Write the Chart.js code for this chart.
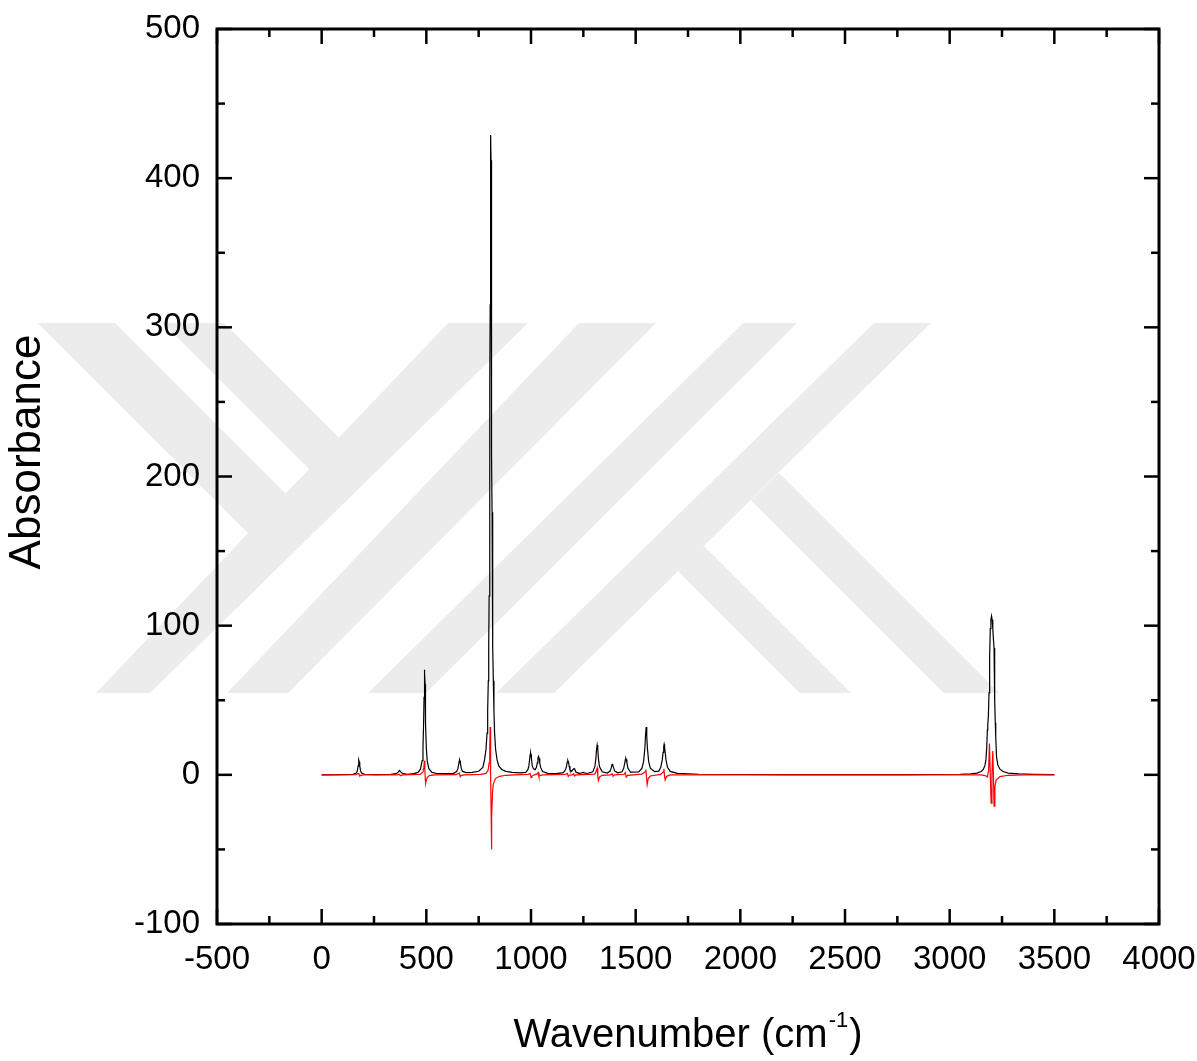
<!DOCTYPE html>
<html lang="en">
<head>
  <meta charset="UTF-8">
  <title>IR Spectrum</title>
  <script src="https://cdn.jsdelivr.net/npm/chart.js"></script>
  <style>
    body {
      margin: 0;
      background-color: #ffffff;
    }
    canvas {
      display: block;
    }
  </style>
</head>
<body>
  <canvas id="spectrumChart" width="1197" height="1061"></canvas>

  <script>
    // black spectrum
    const blackWn = [
      0, 100, 150, 165, 170, 174, 176, 178, 180, 182, 186, 191, 205, 250,
      330, 355, 366, 372, 378, 389, 410,
      440, 460, 472, 480, 484, 487, 489, 490, 491, 492, 493, 494, 495, 497, 500, 504, 512, 527, 550, 600,
      630, 645, 651, 655, 657, 659, 661, 663, 667, 673, 690, 720, 750,
      770, 778, 785, 790, 793, 796, 798, 800, 802, 803, 804, 805, 806, 807, 808,
      809, 810, 811, 812, 813, 814, 816, 818, 820, 823, 826, 831, 838, 846, 860, 880, 910, 950,
      975, 985, 990, 994, 996, 998, 1000, 1002, 1006, 1012, 1020, 1026, 1030, 1033, 1036, 1039, 1042, 1046, 1055, 1080, 1120,
      1155, 1165, 1170, 1173, 1176, 1179, 1182, 1186, 1194, 1200, 1203, 1206, 1209, 1215, 1230, 1244, 1249, 1254, 1270,
      1295, 1305, 1310, 1313, 1316, 1319, 1322, 1327, 1340, 1365, 1378, 1384, 1387, 1389, 1391, 1394, 1400, 1415,
      1435, 1443, 1448, 1451, 1453, 1455, 1458, 1463, 1475, 1515, 1530, 1538, 1544, 1547, 1550, 1553, 1556, 1562, 1570, 1590,
      1610, 1620, 1627, 1631, 1634, 1636, 1638, 1641, 1645, 1652, 1665, 1700, 1800, 2200, 2800,
      3050, 3100, 3130, 3150, 3160, 3168, 3173, 3177, 3180, 3182, 3185, 3188, 3191, 3194, 3197, 3200,
      3203, 3206, 3209, 3212, 3214, 3216, 3218, 3220, 3224, 3230, 3240, 3255, 3280, 3330, 3400, 3500
    ];
    const blackAbs = [
      0, 0.1, 0.3, 1.2, 2.5, 6, 8.6, 10, 8.6, 6, 2.5, 1.2, 0.4, 0.2,
      0.3, 0.8, 1.8, 2.9, 1.8, 0.8, 0.4,
      0.8, 1.6, 3.8, 9.5, 18, 35, 52, 60.8, 67.8, 70.5, 67.8, 60.8, 52, 35, 18, 9.5, 4.1, 1.6, 0.9, 0.8,
      1.0, 2.2, 4.3, 7.5, 9.2, 10, 9.2, 7.5, 4.3, 2.3, 1.5, 1.6, 2.4,
      5, 10, 17, 28, 43, 63, 86, 120, 176, 214, 262, 315, 370, 412, 429,
      412, 370, 315, 262, 214, 176, 120, 86, 63, 43, 28, 17, 10, 6, 3.6, 2.3, 1.6, 1.3,
      1.6, 3.5, 6, 11, 13.5, 14.8, 13.5, 11, 6, 4, 3.5, 5, 8, 11, 12.3, 11, 8, 5, 2.2, 1.0, 0.8,
      1.5, 3.5, 6, 8.5, 9.6, 8.5, 6, 3.5, 2.4, 3.5, 4, 4.2, 3.5, 1.8, 1.0, 1.3, 1.6, 1.3, 0.9,
      2, 5.5, 11, 17, 20, 17, 11, 5.5, 2, 1.2, 2.5, 5, 6.8, 7.4, 6.8, 5, 2.5, 1.3,
      2, 4.5, 8, 10.3, 11, 10.3, 8, 4.5, 1.8, 2.0, 4.5, 9, 18, 26, 32, 26, 18, 9, 4.5, 2.2,
      2.5, 5, 10, 15, 19, 20.5, 19, 15, 10, 5, 2.3, 1.0, 0.4, 0.15, 0.2,
      0.4, 0.7, 1.2, 2.2, 3.5, 6, 10, 18, 30, 33, 40, 55, 80, 98, 104, 106.5,
      104, 98, 91, 85, 68, 50, 35, 26, 12, 6.5, 3.8, 2.2, 1.2, 0.6, 0.3, 0.1
    ];

    // red spectrum
    const redWn = [
      0, 165, 174, 178, 182, 186, 200, 360, 370, 376, 385,
      470, 484, 488, 491, 493, 495, 497, 500, 505, 515, 540,
      640, 655, 658, 662, 666, 680,
      760, 785, 795, 800, 803, 805, 806, 808, 809, 811, 813, 816, 820, 830, 850, 880, 920,
      985, 996, 1000, 1004, 1015, 1030, 1034, 1038, 1042, 1055,
      1165, 1174, 1178, 1183, 1195, 1204, 1208, 1215,
      1305, 1313, 1316, 1319, 1322, 1327, 1340, 1380, 1388, 1392, 1398,
      1445, 1451, 1455, 1462, 1530, 1545, 1549, 1552, 1555, 1560, 1570,
      1620, 1632, 1635, 1638, 1641, 1648, 1665,
      3150, 3170, 3180, 3186, 3190, 3194, 3198, 3202, 3206, 3209, 3212, 3216, 3222, 3240, 3280, 3350, 3500
    ];
    const redAbs = [
      0, 0.2, 1, 0.5, -0.8, -0.4, 0, 0, 0.5, -0.6, 0,
      0.3, 2, 5, 9.5, 3, -3, -5.5, -3.5, -1.5, -0.5, 0,
      0.1, 1, 1.2, -1.2, -0.5, 0,
      0.3, 1.0, 3, 8, 18, 32, 22, 0, -20, -50, -28, -12, -6, -2.5, -1, -0.3, 0,
      0.3, 0.8, -1.8, -1, 0, 0.6, 1.5, -1.2, -0.5, 0,
      0.3, 1, -1, -0.3, 0, 0.6, -0.8, 0,
      0.5, 3, 4.5, -1, -3.8, -1.5, -0.3, 0, 0.8, -1, 0,
      0.4, 1.5, -1.5, -0.3, 0.5, 2, 3.5, -2, -6.5, -2.5, -0.8,
      0.3, 2, 4, -1, -3.5, -1, 0,
      0, -0.5, -1.5, 3, 21, 0, -19, 0, 16, 0, -21, -8, -3.5, -1.2, -0.3, 0, 0
    ];

    const xTicks = [-500, 0, 500, 1000, 1500, 2000, 2500, 3000, 3500, 4000];
    const yTicks = [-100, 0, 100, 200, 300, 400, 500];

    const FONT = '"Liberation Sans", Arial, sans-serif';

    // faint logo bands behind the plot (canvas pixels)
    const bands = [
      [[96, 693], [150, 693], [528, 323], [448, 323]],
      [[227, 693], [288, 693], [656, 323], [579, 323]],
      [[368, 693], [426, 693], [797, 323], [743, 323]],
      [[496, 693], [554, 693], [931, 323], [874, 323]],
      [[38, 323], [115, 323], [287, 495], [249, 534]],
      [[163, 323], [224, 323], [340, 439], [310, 470]],
      [[678, 571], [704, 546], [851, 693], [800, 693]],
      [[751, 500], [779, 473], [999, 693], [944, 693]]
    ];

    function minorsOf(ticks) {
      const out = [];
      for (let i = 0; i < ticks.length - 1; i++) out.push((ticks[i] + ticks[i + 1]) / 2);
      return out;
    }

    const framePlugin = {
      id: 'frame',
      beforeDraw(chart) {
        const ctx = chart.ctx;
        ctx.save();
        ctx.fillStyle = '#ececec';
        bands.forEach(poly => {
          ctx.beginPath();
          poly.forEach(([px, py], i) => i ? ctx.lineTo(px, py) : ctx.moveTo(px, py));
          ctx.closePath();
          ctx.fill();
        });
        ctx.restore();
      },
      afterDraw(chart) {
        const {ctx, chartArea: a, scales: {x, y}} = chart;
        ctx.save();
        ctx.strokeStyle = '#000000';
        ctx.lineWidth = 2.5;

        const tick = (x1, y1, x2, y2) => {
          ctx.beginPath();
          ctx.moveTo(x1, y1);
          ctx.lineTo(x2, y2);
          ctx.stroke();
        };

        // inward ticks on all four sides
        [[xTicks, 15], [minorsOf(xTicks), 8]].forEach(([vals, len]) => {
          vals.forEach(v => {
            const px = x.getPixelForValue(v);
            tick(px, a.bottom, px, a.bottom - len);
            tick(px, a.top, px, a.top + len);
          });
        });
        [[yTicks, 15], [minorsOf(yTicks), 8]].forEach(([vals, len]) => {
          vals.forEach(v => {
            const py = y.getPixelForValue(v);
            tick(a.left, py, a.left + len, py);
            tick(a.right, py, a.right - len, py);
          });
        });

        ctx.lineWidth = 3;
        ctx.strokeRect(a.left, a.top, a.right - a.left, a.bottom - a.top);

        // axis titles
        ctx.fillStyle = '#000000';
        ctx.save();
        ctx.translate(28, 452);
        ctx.rotate(-Math.PI / 2);
        ctx.font = '44px ' + FONT;
        ctx.textAlign = 'center';
        ctx.textBaseline = 'middle';
        ctx.fillText('Absorbance', 0, 0);
        ctx.restore();

        const main = 'Wavenumber (cm';
        const sup = '-1';
        const tail = ')';
        ctx.textBaseline = 'alphabetic';
        ctx.textAlign = 'left';
        ctx.font = '40px ' + FONT;
        const wMain = ctx.measureText(main).width;
        const wTail = ctx.measureText(tail).width;
        ctx.font = '22px ' + FONT;
        const wSup = ctx.measureText(sup).width;
        let tx = (a.left + a.right) / 2 - (wMain + wSup + wTail + 2) / 2;
        ctx.font = '40px ' + FONT;
        ctx.fillText(main, tx, 1047);
        tx += wMain + 1;
        ctx.font = '22px ' + FONT;
        ctx.fillText(sup, tx, 1027);
        tx += wSup + 1;
        ctx.font = '40px ' + FONT;
        ctx.fillText(tail, tx, 1047);
        ctx.restore();
      }
    };

    const toPoints = (xs, ys) => xs.map((v, i) => ({x: v, y: ys[i]}));

    new Chart(document.getElementById('spectrumChart'), {
      type: 'line',
      data: {
        datasets: [
          {
            label: 'red',
            data: toPoints(redWn, redAbs),
            borderColor: '#ff0000',
            borderWidth: 1.2,
            pointRadius: 0,
            tension: 0,
            order: 0
          },
          {
            label: 'black',
            data: toPoints(blackWn, blackAbs),
            borderColor: '#000000',
            borderWidth: 1.2,
            pointRadius: 0,
            tension: 0,
            order: 1
          }
        ]
      },
      options: {
        responsive: false,
        animation: false,
        devicePixelRatio: 1,
        layout: { padding: { top: 29, right: 38, left: 0, bottom: 0 } },
        plugins: {
          legend: { display: false },
          tooltip: { enabled: false }
        },
        scales: {
          x: {
            type: 'linear',
            min: -500,
            max: 4000,
            grid: { display: false, drawTicks: false, tickLength: 0 },
            border: { display: false },
            afterBuildTicks: s => { s.ticks = xTicks.map(v => ({value: v})); },
            afterFit: s => {
              s.height = 137;
              s.paddingLeft = 0;
              s.paddingRight = 0;
            },
            ticks: {
              color: '#000000',
              padding: 16,
              maxRotation: 0,
              autoSkip: false,
              font: { family: FONT, size: 33 },
              callback: v => String(v)
            }
          },
          y: {
            type: 'linear',
            min: -100,
            max: 500,
            grid: { display: false, drawTicks: false, tickLength: 0 },
            border: { display: false },
            afterBuildTicks: s => { s.ticks = yTicks.map(v => ({value: v})); },
            afterFit: s => {
              s.width = 217;
              s.paddingTop = 0;
              s.paddingBottom = 0;
            },
            ticks: {
              color: '#000000',
              padding: 17,
              autoSkip: false,
              font: { family: FONT, size: 33 },
              callback: v => String(v)
            }
          }
        }
      },
      plugins: [framePlugin]
    });
  </script>
</body>
</html>
